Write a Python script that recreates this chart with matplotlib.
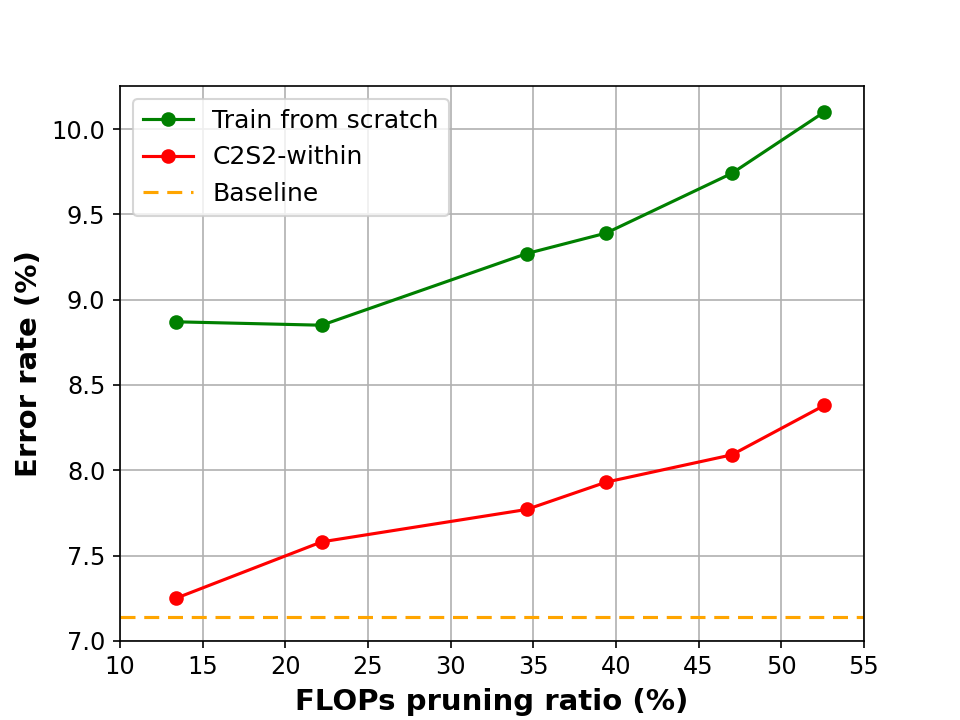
import matplotlib
matplotlib.use("Agg")
import matplotlib.pyplot as plt

ratio = [13.4, 22.2, 34.6, 39.4, 47.0, 52.6]
scratch = [8.87, 8.85, 9.27, 9.39, 9.74, 10.10]
c2s2 = [7.25, 7.58, 7.77, 7.93, 8.09, 8.38]
baseline = 7.14

fig, ax = plt.subplots(figsize=(6.4, 4.8), dpi=150)
ax.plot(ratio, scratch, color="green", marker="o", label="Train from scratch")
ax.plot(ratio, c2s2, color="red", marker="o", label="C2S2-within")
ax.axhline(baseline, color="orange", linestyle=(0, (4.8, 2.8)), label="Baseline")
ax.set_xlim(10, 55)
ax.set_ylim(7.0, 10.25)
ax.set_xticks(range(10, 56, 5))
ax.grid(True)
ax.tick_params(labelsize=11.5)
ax.set_xlabel("FLOPs pruning ratio (%)", fontsize=14, fontweight="bold")
ax.set_ylabel("Error rate (%)", fontsize=14, fontweight="bold")
ax.legend(loc="upper left", fontsize=12)
fig.savefig("out.png")
